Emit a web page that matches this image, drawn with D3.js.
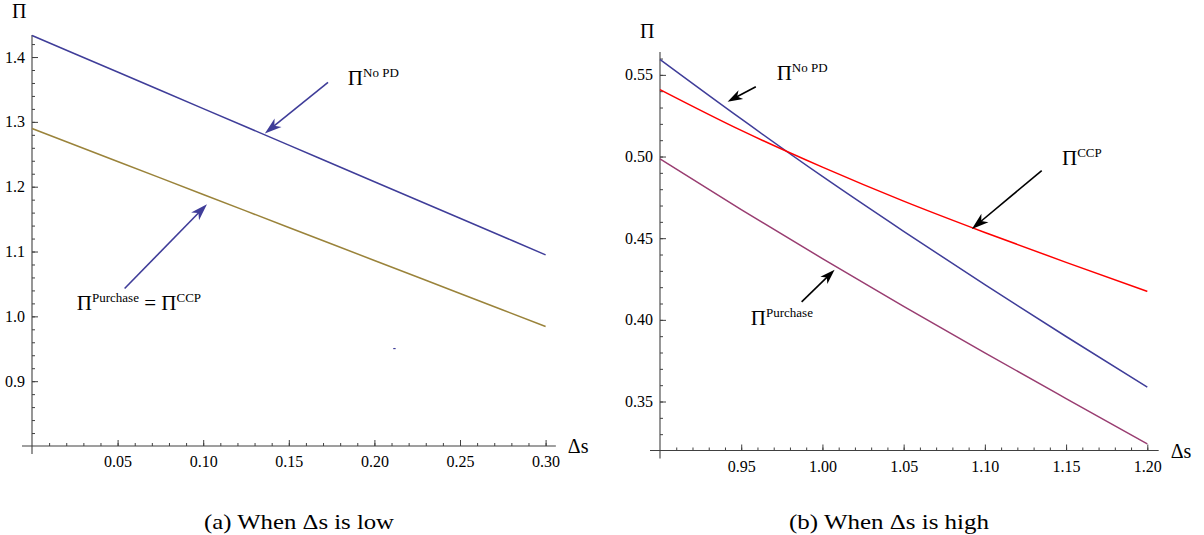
<!DOCTYPE html>
<html><head><meta charset="utf-8">
<script src="https://cdn.jsdelivr.net/npm/d3@7"></script>
<style>body{margin:0;background:#fff} svg text{font-family:'Liberation Serif','Times New Roman','DejaVu Serif',serif !important;fill:#000}</style>
</head><body><svg id="c" width="1204" height="535" font-family="Liberation Serif"></svg>
<script>
// ---- data ----
const lowX = [0, 0.05, 0.10, 0.15, 0.20, 0.25, 0.30];
const lowNoPD = [1.4333, 1.3769, 1.3205, 1.2641, 1.2077, 1.1513, 1.0949];
const lowPurchaseCCP = [1.2898, 1.2389, 1.1880, 1.1371, 1.0862, 1.0353, 0.9844];
const highX = [0.90, 0.95, 1.00, 1.05, 1.10, 1.15, 1.20];
const highNoPD = [0.5594, 0.5230, 0.4878, 0.4542, 0.4215, 0.3898, 0.3588];
const highCCP = [0.5410, 0.5160, 0.4935, 0.4727, 0.4535, 0.4352, 0.4174];
const highPurchase = [0.4985, 0.4675, 0.4375, 0.4083, 0.3798, 0.3518, 0.3240];
const lowXTicks = [0.05, 0.10, 0.15, 0.20, 0.25, 0.30];
const lowYTicks = [0.9, 1.0, 1.1, 1.2, 1.3, 1.4];
const highXTicks = [0.95, 1.00, 1.05, 1.10, 1.15, 1.20];
const highYTicks = [0.35, 0.40, 0.45, 0.50, 0.55];
const captions = ["(a) When Δs is low", "(b) When Δs is high"];

const FONT = "'Liberation Serif','Times New Roman',serif";
const svg = d3.select("#c");
svg.append("rect").attr("width",1204).attr("height",535).attr("fill","#fff");

const BLUE = "#3f3d99", GOLD = "#9a833a", PURPLE = "#993d71", RED = "#ff0000", AX = "#404040";

function range(a, b, s){ const r=[]; for(let v=a; v<=b+1e-9; v+=s) r.push(+v.toFixed(4)); return r; }

function panel(x, y, o){
  const g = svg.append("g");
  const x0 = x.range()[0], y0 = y.range()[0];
  g.append("g").attr("transform",`translate(0,${y0})`)
    .call(d3.axisBottom(x).tickValues(o.xMinor).tickSizeInner(-3).tickSizeOuter(0).tickFormat(""))
    .call(s=>s.select(".domain").remove()).selectAll("line").attr("stroke",AX);
  g.append("g").attr("transform",`translate(${x0},0)`)
    .call(d3.axisLeft(y).tickValues(o.yMinor).tickSizeInner(-3).tickSizeOuter(0).tickFormat(""))
    .call(s=>s.select(".domain").remove()).selectAll("line").attr("stroke",AX);
  const xa = g.append("g").attr("transform",`translate(0,${y0})`)
    .call(d3.axisBottom(x).tickValues(o.xTicks).tickSizeInner(-6).tickSizeOuter(0).tickPadding(10).tickFormat(d3.format(".2f")));
  xa.attr("font-family",FONT).select(".domain").remove();
  xa.selectAll("line").attr("stroke",AX);
  xa.selectAll("text").attr("style",`font-family:${FONT};font-size:16px`).attr("fill","#000");
  const ya = g.append("g").attr("transform",`translate(${x0},0)`)
    .call(d3.axisLeft(y).tickValues(o.yTicks).tickSizeInner(-6).tickSizeOuter(0).tickPadding(7).tickFormat(d3.format(o.yFmt)));
  ya.attr("font-family",FONT).select(".domain").remove();
  ya.selectAll("line").attr("stroke",AX);
  ya.selectAll("text").attr("style",`font-family:${FONT};font-size:16px`).attr("fill","#000");
  g.append("line").attr("x1",x0-10).attr("x2",x(o.xEnd)).attr("y1",y0).attr("y2",y0).attr("stroke",AX).attr("stroke-width",1.1);
  g.append("line").attr("x1",x0).attr("x2",x0).attr("y1",y0+8).attr("y2",y.range()[1]).attr("stroke",AX).attr("stroke-width",1.1);
  g.append("text").attr("x",x(o.xEnd)+12).attr("y",y0+7).attr("style",`font-family:${FONT};font-size:20px`).text("Δs");
  g.append("text").attr("x",x0-20).attr("y",y.range()[1]-o.piGap).attr("style",`font-family:${FONT};font-size:20px`).text("Π");
  return g;
}

function series(g, x, y, xs, ys, color){
  g.append("path").datum(xs.map((d,i)=>[d,ys[i]]))
    .attr("fill","none").attr("stroke",color).attr("stroke-width",1.5)
    .attr("d", d3.line().x(d=>x(d[0])).y(d=>y(d[1])).curve(d3.curveMonotoneX));
}

function arrow(g, x1, y1, x2, y2, color, L, W){
  const dx=x2-x1, dy=y2-y1, len=Math.hypot(dx,dy), ux=dx/len, uy=dy/len, nx=-uy, ny=ux;
  const bx=x2-ux*L, by=y2-uy*L;
  g.append("line").attr("x1",x1).attr("y1",y1).attr("x2",x2-ux*L*0.7).attr("y2",y2-uy*L*0.7)
    .attr("stroke",color).attr("stroke-width",1.6);
  g.append("path").attr("fill",color)
    .attr("d",`M${x2},${y2}L${bx+nx*W/2},${by+ny*W/2}L${x2-ux*L*0.72},${y2-uy*L*0.72}L${bx-nx*W/2},${by-ny*W/2}Z`);
}

function piLabel(g, px, py, parts){
  const t = g.append("text").attr("x",px).attr("y",py).attr("style",`font-family:${FONT}`);
  let up = false;
  parts.forEach(p=>{
    const ts = t.append("tspan").text(p.t);
    if(p.sup){ ts.attr("font-size",13).attr("dy", up?0:-8); up=true; }
    else { ts.attr("font-size",21).attr("dy", up?8:0); up=false; }
  });
}

// ---- left panel ----
const xL = d3.scaleLinear([0,0.30],[32,545.6]);
const yL = d3.scaleLinear([0.8,1.434],[446,35]);
const gL = panel(xL, yL, {xTicks:lowXTicks, yTicks:lowYTicks, xMinor:range(0.01,0.30,0.01), yMinor:range(0.82,1.42,0.02), yFmt:".1f", xEnd:0.306, piGap:17});
series(gL, xL, yL, lowX, lowNoPD, BLUE);
series(gL, xL, yL, lowX, lowPurchaseCCP, GOLD);
arrow(gL, xL(0.1729), yL(1.3608), xL(0.1360), yL(1.2821), BLUE, 17, 11);
arrow(gL, xL(0.0541), yL(1.0429), xL(0.1022), yL(1.1730), BLUE, 17, 11);
piLabel(gL, xL(0.1845), yL(1.357), [{t:"Π"},{t:"No PD",sup:true}]);
piLabel(gL, xL(0.0262), yL(1.0095), [{t:"Π"},{t:"Purchase",sup:true},{t:" = Π"},{t:"CCP",sup:true}]);
gL.append("line").attr("x1",xL(0.2110)).attr("x2",xL(0.2124)).attr("y1",yL(0.9503)).attr("y2",yL(0.9503)).attr("stroke",BLUE).attr("stroke-width",1.2);

// ---- right panel ----
const xR = d3.scaleLinear([0.9,1.2],[660,1147.3]);
const yR = d3.scaleLinear([0.32,0.564],[450.5,52]);
const gR = panel(xR, yR, {xTicks:highXTicks, yTicks:highYTicks, xMinor:range(0.91,1.20,0.01), yMinor:range(0.33,0.56,0.01), yFmt:".2f", xEnd:1.207, piGap:14});
series(gR, xR, yR, highX, highNoPD, BLUE);
series(gR, xR, yR, highX, highCCP, RED);
series(gR, xR, yR, highX, highPurchase, PURPLE);
arrow(gR, xR(0.9590), yR(0.5427), xR(0.9416), yR(0.5336), "#000", 15, 10);
arrow(gR, xR(1.1350), yR(0.4914), xR(1.0920), yR(0.4557), "#000", 17, 11);
arrow(gR, xR(0.9872), yR(0.4110), xR(1.0075), yR(0.4306), "#000", 15, 10);
piLabel(gR, xR(0.9718), yR(0.5469), [{t:"Π"},{t:"No PD",sup:true}]);
piLabel(gR, xR(1.1475), yR(0.4948), [{t:"Π"},{t:"CCP",sup:true}]);
piLabel(gR, xR(0.9559), yR(0.3969), [{t:"Π"},{t:"Purchase",sup:true}]);

// ---- captions ----
svg.append("text").attr("x",204).attr("y",529).attr("style",`font-family:${FONT};font-size:22px`).attr("textLength",190).attr("lengthAdjust","spacingAndGlyphs").text(captions[0]);
svg.append("text").attr("x",789).attr("y",529).attr("style",`font-family:${FONT};font-size:22px`).attr("textLength",200).attr("lengthAdjust","spacingAndGlyphs").text(captions[1]);
</script></body></html>
